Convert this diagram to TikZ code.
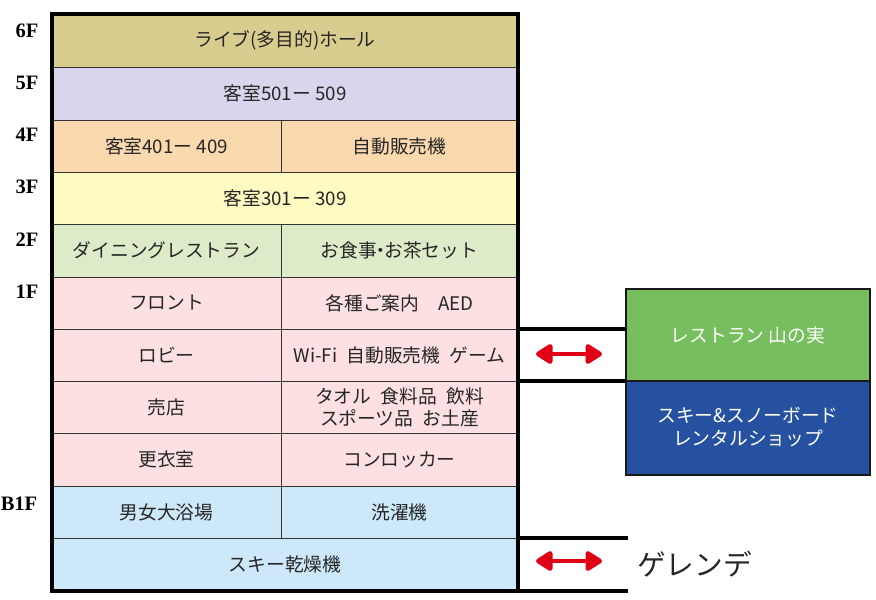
\documentclass[tikz,border=0pt]{standalone}
\usepackage{fontspec}
\setmainfont{Noto Sans CJK JP}
\newfontfamily\floorfont{Liberation Serif}
\usepackage{tikz}
\usetikzlibrary{arrows.meta}

\definecolor{col6}{HTML}{D8CD8F}
\definecolor{col5}{HTML}{D8D5EC}
\definecolor{col4}{HTML}{FAD9AE}
\definecolor{col3}{HTML}{FDFAC2}
\definecolor{col2}{HTML}{DDEBC9}
\definecolor{col1}{HTML}{FCE0E2}
\definecolor{colb}{HTML}{CDE8F8}
\definecolor{restgreen}{HTML}{77BE5E}
\definecolor{rentblue}{HTML}{2651A1}
\definecolor{arrowred}{HTML}{E00016}

\tikzset{
  room/.style={font=\fontsize{16}{19}\selectfont, text=black!85, align=center},
  floor/.style={font=\floorfont\bfseries\fontsize{17.5}{19}\selectfont},
  thinline/.style={draw=black!80, line width=0.8pt},
  thickline/.style={line width=2.6pt},
  redtip/.tip={Triangle[length=16pt,width=19pt,round]},
  twoway/.style={draw=arrowred, line width=4.2pt, redtip-redtip}
}

\begin{document}
\begin{tikzpicture}[x=0.03cm,y=-0.03cm]
    \useasboundingbox (0,0) rectangle (876,600);

    % floor colours
    \fill[col6] (52,14) rectangle (518,67);
    \fill[col5] (52,67) rectangle (518,120);
    \fill[col4] (52,120) rectangle (518,172);
    \fill[col3] (52,172) rectangle (518,224);
    \fill[col2] (52,224) rectangle (518,277);
    \fill[col1] (52,277) rectangle (518,486);
    \fill[colb] (52,486) rectangle (518,591);

    % grid lines
    \foreach \y in {67,120,172,224,277,329,381,433,486,538}
        \draw[thinline] (52,\y) -- (518,\y);
    \draw[thinline] (281,120) -- (281,172);
    \draw[thinline] (281,224) -- (281,538);
    \draw[thickline] (52,14) rectangle (518,591);

    % floor labels
    \node[floor] (f6) at (27,31) {6F};
    \node[floor] (f5) at (27,83) {5F};
    \node[floor] (f4) at (27,135) {4F};
    \node[floor] (f3) at (27,187) {3F};
    \node[floor] (f2) at (27,240) {2F};
    \node[floor] (f1) at (27,292) {1F};
    \node[floor] (fb) at (19,504) {B1F};

    % rooms
    \node[room] (live) at (285,40.5) {ライブ(多目的)ホール};
    \node[room] (r5) at (285,93.5) {客室501ー 509};
    \node[room] (r4) at (166.5,146) {客室401ー 409};
    \node[room] (vend4) at (399.5,146) {自動販売機};
    \node[room] (r3) at (285,198) {客室301ー 309};
    \node[room] (dining) at (166.5,250.5) {ダイニングレストラン};
    \node[room] (tea) at (399.5,250.5) {お食事\hspace{-0.3em}・\hspace{-0.3em}お茶セット};
    \node[room] (front) at (166.5,303) {フロント};
    \node[room] (info) at (399.5,303) {各種ご案内\hspace{1em}AED};
    \node[room] (lobby) at (166.5,355) {ロビー};
    \node[room] (wifi) at (399.5,355) {Wi-Fi\hspace{0.5em}自動販売機\hspace{0.5em}ゲーム};
    \node[room] (shop) at (166.5,407) {売店};
    \node[room] (goods) at (399.5,407) {タオル\hspace{0.5em}食料品\hspace{0.5em}飲料\\スポーツ品\hspace{0.5em}お土産};
    \node[room] (locker) at (166.5,459.5) {更衣室};
    \node[room] (coin) at (399.5,459.5) {コンロッカー};
    \node[room] (bath) at (166.5,512) {男女大浴場};
    \node[room] (wash) at (399.5,512) {洗濯機};
    \node[room] (dryer) at (285,564.5) {スキー乾燥機};

    % outside
    \filldraw[restgreen, draw=black!90, line width=2.4pt] (626,289) rectangle (870,381);
    \filldraw[rentblue, draw=black!90, line width=2.4pt] (626,381) rectangle (870,475);
    \node[room, text=white] (rest) at (748,335) {レストラン 山の実};
    \node[room, text=white] (rental) at (748,427) {スキー\&スノーボード\\レンタルショップ};
    \draw[thickline] (518,329) -- (626,329);
    \draw[thickline] (518,381) -- (626,381);
    \draw[thickline] (518,538) -- (628,538);
    \draw[thickline] (518,591) -- (628,591);
    \node[anchor=west, font=\fontsize{24.5}{27}\selectfont, text=black!85] (slope) at (633,564) {ゲレンデ};

    % arrows
    \coordinate (a1) at (536,354);
    \coordinate (b1) at (602,354);
    \coordinate (a2) at (536,561);
    \coordinate (b2) at (602,561);
    \draw[twoway] (a1) -- (b1);
    \draw[twoway] (a2) -- (b2);
\end{tikzpicture}
\end{document}
